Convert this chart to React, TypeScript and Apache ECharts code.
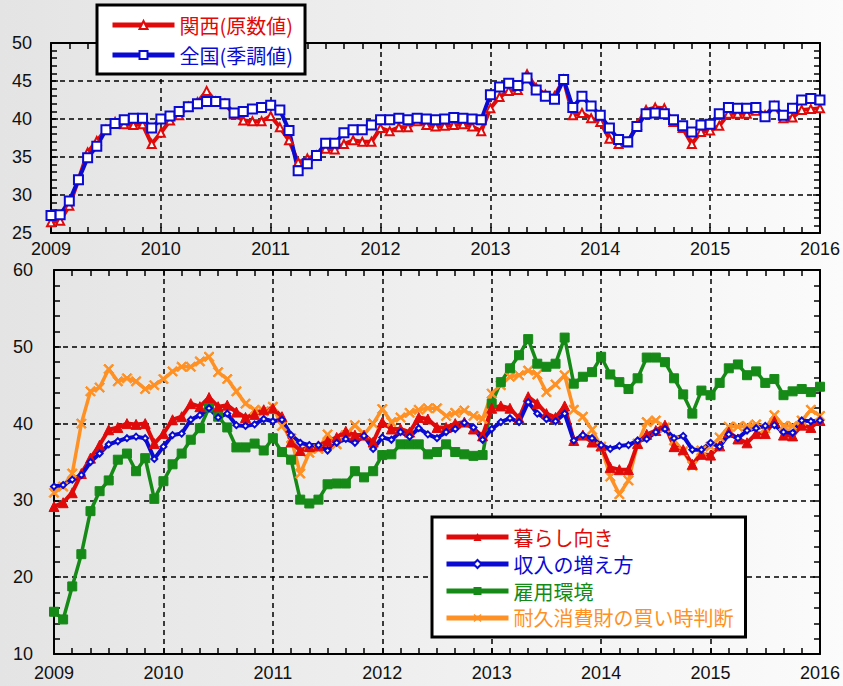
import React, { useEffect, useRef } from "react";
import * as echarts from "echarts";

const YEAR_LABELS = ["2009", "2010", "2011", "2012", "2013", "2014", "2015", "2016"];

// Top panel (monthly, Jan 2009 - Jan 2016)
const KANSAI = [
  26.4, 26.6, 28.6, 32.0, 35.6, 37.1, 38.6, 39.6, 39.3, 39.2, 39.3, 36.7,
  38.2, 39.8, 40.5, 41.6, 42.2, 43.7, 42.3, 42.0, 40.6, 39.8, 39.7, 39.7,
  40.4, 38.9, 37.2, 34.3, 34.8, 35.2, 36.1, 36.0, 36.7, 37.2, 37.0, 37.0,
  38.8, 38.4, 38.9, 38.9, 39.7, 39.2, 39.0, 39.1, 39.2, 39.3, 39.0, 38.4,
  41.4, 42.9, 43.7, 43.8, 45.9, 44.1, 43.2, 43.0, 45.2, 40.5, 40.8, 40.1,
  39.6, 37.4, 36.7, 36.9, 39.2, 41.2, 41.5, 41.4, 39.6, 38.8, 36.7, 38.3,
  38.5, 39.1, 40.7, 40.7, 40.7, 41.1, 40.5, 41.7, 40.1, 40.2, 41.2, 41.3, 41.4,
];
const NATIONAL = [
  27.3, 27.4, 29.2, 32.0, 34.9, 36.4, 38.6, 39.4, 39.9, 40.1, 40.1, 38.8,
  40.0, 40.4, 41.0, 41.6, 42.0, 42.3, 42.3, 42.0, 40.8, 41.0, 41.3, 41.5,
  41.8, 41.2, 38.5, 33.2, 34.1, 35.2, 36.8, 36.8, 38.2, 38.6, 38.6, 39.2,
  39.9, 39.9, 40.1, 39.9, 40.1, 40.0, 39.9, 40.0, 40.2, 40.1, 40.0, 39.9,
  43.2, 44.2, 44.7, 44.4, 45.4, 43.8, 43.0, 42.6, 45.2, 41.5, 43.0, 41.7,
  40.5, 38.8, 37.3, 37.0, 39.0, 40.7, 40.8, 40.7, 39.9, 39.1, 38.3, 39.2,
  39.3, 40.7, 41.5, 41.4, 41.4, 41.5, 40.3, 41.7, 40.5, 41.4, 42.5, 42.7, 42.5,
];

// Bottom panel
const KURASHI = [
  29.2, 29.7, 31.0, 33.5, 35.5, 37.2, 39.2, 39.5, 40.0, 39.9, 40.0, 37.4,
  38.7, 40.5, 40.9, 42.6, 42.2, 43.4, 42.2, 42.4, 41.5, 40.8, 41.2, 41.8,
  42.0, 40.9, 37.6, 36.5, 37.0, 37.1, 37.7, 38.2, 39.0, 38.5, 38.5, 37.6,
  40.2, 39.3, 39.3, 38.9, 40.8, 40.6, 39.5, 39.5, 40.0, 40.2, 39.3, 38.4,
  42.0, 42.3, 42.0, 40.7, 43.5, 42.6, 41.3, 40.8, 42.3, 37.8, 38.5, 37.6,
  37.1, 34.3, 34.0, 34.0, 37.4, 38.6, 39.1, 39.8, 37.0, 36.6, 34.7, 36.0,
  35.9, 37.1, 38.9, 38.0, 37.5, 38.7, 38.7, 40.3, 38.5, 38.4, 39.8, 39.5, 40.4,
];
const SHUNYU = [
  31.8, 32.0, 32.7, 33.3, 35.0, 36.1, 37.3, 37.7, 38.1, 38.3, 38.1, 35.4,
  37.0, 38.5, 38.7, 40.5, 41.1, 42.0, 40.8, 41.3, 39.8, 39.7, 39.9, 40.6,
  40.3, 40.5, 38.5, 37.5, 37.2, 37.2, 36.5, 37.5, 38.0, 37.5, 38.4, 36.7,
  38.2, 37.9, 38.9, 38.3, 39.4, 38.6, 38.1, 38.9, 39.3, 40.1, 39.5, 37.9,
  39.3, 40.2, 40.7, 40.2, 42.8, 41.3, 40.6, 40.3, 41.3, 37.8, 38.5, 38.1,
  37.2, 36.7, 37.1, 37.2, 37.8, 38.0, 38.9, 39.3, 38.1, 38.4, 36.6, 36.6,
  37.5, 37.0, 38.6, 38.1, 39.1, 39.4, 39.7, 39.8, 38.9, 38.8, 40.4, 40.3, 40.4,
];
const KOYO = [
  15.5, 14.5, 18.8, 23.0, 28.6, 31.2, 32.6, 35.3, 36.1, 33.8, 35.5, 30.2,
  32.5, 34.7, 36.1, 37.9, 39.4, 42.1, 40.9, 39.5, 36.9, 36.9, 37.4, 36.5,
  38.1, 36.3, 35.3, 30.1, 29.6, 30.1, 32.1, 32.2, 32.2, 33.8, 33.0, 33.8,
  35.9, 36.0, 37.3, 37.3, 37.3, 36.0, 36.3, 37.3, 36.3, 36.0, 35.8, 35.9,
  42.6, 45.4, 47.2, 48.9, 51.0, 47.8, 47.4, 47.8, 51.2, 45.2, 46.1, 46.7,
  48.7, 46.4, 45.4, 44.5, 45.9, 48.6, 48.6, 48.0, 45.9, 43.8, 41.3, 44.3,
  43.7, 45.3, 47.2, 47.7, 46.3, 46.8, 45.3, 45.8, 43.7, 44.2, 44.5, 44.1, 44.8,
];
const TAIKYU = [
  31.0, 31.8, 33.5, 40.0, 44.2, 44.7, 47.1, 45.5, 45.9, 45.5, 44.5, 45.0,
  45.8, 46.8, 47.4, 47.4, 48.1, 48.7, 46.7, 45.8, 44.2, 42.6, 41.8, 41.6,
  42.2, 39.7, 38.1, 33.5, 36.2, 36.7, 38.6, 37.3, 38.5, 39.8, 38.6, 40.0,
  41.9, 40.2, 40.8, 41.4, 41.8, 42.0, 42.0, 41.0, 41.4, 41.7, 41.0, 40.6,
  43.9, 45.0, 46.1, 46.3, 46.9, 46.4, 44.1, 45.1, 46.3, 41.8, 40.9, 39.2,
  37.0, 33.1, 30.8, 32.6, 37.4, 40.2, 40.4, 39.5, 37.8, 36.4, 34.5, 36.5,
  37.0, 38.2, 39.6, 39.6, 39.7, 39.9, 39.4, 41.1, 39.7, 39.7, 40.4, 41.8, 41.0,
];

const NAMES_TOP = ["関西(原数値)", "全国(季調値)"];
const NAMES_BOTTOM = ["暮らし向き", "収入の増え方", "雇用環境", "耐久消費財の買い時判断"];

const RED = "#e00a0a";
const BLUE = "#0a0ad2";
const GREEN = "#168a16";
const ORANGE = "#ff9124";

const NUM_FONT = "'Liberation Sans', Arial, sans-serif";
const CJK_FONT = "'Noto Sans CJK JP', 'Noto Sans', sans-serif";
const X_SYMBOL = "path://M0,1.2 L1.2,0 L5,3.8 L8.8,0 L10,1.2 L6.2,5 L10,8.8 L8.8,10 L5,6.2 L1.2,10 L0,8.8 L3.8,5 Z";

const toPairs = (arr: number[]) => arr.map((v, i) => [i, v]);

function xAxes(gridIndex: number, labelMargin: number) {
  const common = {
    gridIndex,
    type: "value",
    min: 0,
    max: 84,
    interval: 12,
    axisLine: { show: true, onZero: false, lineStyle: { color: "#000", width: 2 } },
    axisTick: { show: true, inside: true, length: 6, lineStyle: { color: "#000", width: 1.5 } },
    minorTick: { show: true, splitNumber: 6, length: 6, lineStyle: { color: "#000", width: 1.5 } },
  };
  return [
    {
      ...common,
      position: "bottom",
      axisLabel: {
        show: true,
        margin: labelMargin,
        fontSize: 18,
        color: "#111",
        fontFamily: NUM_FONT,
        formatter: (v: number) => YEAR_LABELS[Math.round(v / 12)] ?? "",
      },
      splitLine: { show: true, lineStyle: { color: "#000", width: 1.5, type: [5, 4] } },
    },
    {
      ...common,
      position: "top",
      axisLabel: { show: false },
      splitLine: { show: false },
    },
  ];
}

function yAxes(gridIndex: number, min: number, max: number, interval: number, labelMargin: number) {
  const common = {
    gridIndex,
    type: "value",
    min,
    max,
    interval,
    axisLine: { show: true, onZero: false, lineStyle: { color: "#000", width: 2 } },
    axisTick: { show: true, inside: true, length: 7, lineStyle: { color: "#000", width: 1.5 } },
    minorTick: { show: true, splitNumber: 5, length: 6, lineStyle: { color: "#000", width: 1.5 } },
  };
  return [
    {
      ...common,
      position: "left",
      axisLabel: { show: true, margin: labelMargin, fontSize: 18, color: "#111", fontFamily: NUM_FONT },
      splitLine: { show: true, lineStyle: { color: "#000", width: 1.5, type: [5, 4] } },
    },
    {
      ...common,
      position: "right",
      axisLabel: { show: false },
      splitLine: { show: false },
    },
  ];
}

export default function App() {
  const ref = useRef<HTMLDivElement | null>(null);

  useEffect(() => {
    if (!ref.current) return;
    const chart = echarts.init(ref.current, null, { renderer: "svg" });

    const lineSeries = (
      name: string,
      data: number[],
      color: string,
      xi: number,
      yi: number,
      symbol: string,
      symbolSize: number,
      width: number
    ) => ({
      name,
      type: "line",
      xAxisIndex: xi,
      yAxisIndex: yi,
      data: toPairs(data),
      symbol,
      symbolSize,
      showAllSymbol: true,
      silent: true,
      lineStyle: { color, width },
      itemStyle: { color, borderColor: color },
      emphasis: { disabled: true },
    });

    const option = {
      animation: false,
      backgroundColor: "transparent",
      textStyle: { fontFamily: NUM_FONT },
      grid: [
        { left: 51, right: 20, top: 43, height: 190 },
        { left: 54, right: 20, top: 270, height: 384 },
      ],
      xAxis: [...xAxes(0, 7), ...xAxes(1, 10)],
      yAxis: [...yAxes(0, 25, 50, 5, 19), ...yAxes(1, 10, 60, 10, 21)],
      legend: [
        {
          orient: "vertical",
          left: 97,
          top: 5,
          padding: [10, 12, 9, 13],
          itemWidth: 62,
          itemHeight: 10,
          itemGap: 10,
          backgroundColor: "#fff",
          borderColor: "#000",
          borderWidth: 3,
          borderRadius: 0,
          selectedMode: false,
          lineStyle: { width: 5 },
          textStyle: { fontSize: 20, fontFamily: CJK_FONT },
          data: [
            { name: NAMES_TOP[0], textStyle: { color: RED } },
            { name: NAMES_TOP[1], textStyle: { color: BLUE } },
          ],
        },
        {
          orient: "vertical",
          left: 432,
          top: 517,
          padding: [10, 12, 9, 12],
          itemWidth: 62,
          itemHeight: 10,
          itemGap: 7,
          backgroundColor: "#fff",
          borderColor: "#000",
          borderWidth: 3,
          borderRadius: 0,
          selectedMode: false,
          lineStyle: { width: 5 },
          textStyle: { fontSize: 20, fontFamily: CJK_FONT },
          data: [
            { name: NAMES_BOTTOM[0], textStyle: { color: RED } },
            { name: NAMES_BOTTOM[1], textStyle: { color: BLUE } },
            { name: NAMES_BOTTOM[2], textStyle: { color: GREEN } },
            { name: NAMES_BOTTOM[3], textStyle: { color: ORANGE } },
          ],
        },
      ],
      series: [
        lineSeries(NAMES_TOP[0], KANSAI, RED, 0, 0, "emptyTriangle", 8, 4),
        lineSeries(NAMES_TOP[1], NATIONAL, BLUE, 0, 0, "emptyRect", 9, 4),
        lineSeries(NAMES_BOTTOM[3], TAIKYU, ORANGE, 2, 2, X_SYMBOL, 10, 3.5),
        lineSeries(NAMES_BOTTOM[2], KOYO, GREEN, 2, 2, "rect", 9, 3.5),
        lineSeries(NAMES_BOTTOM[0], KURASHI, RED, 2, 2, "triangle", 10, 4),
        lineSeries(NAMES_BOTTOM[1], SHUNYU, BLUE, 2, 2, "emptyDiamond", 6, 4),
      ],
    };

    chart.setOption(option as any);
    return () => chart.dispose();
  }, []);

  return (
    <div
      style={{
        position: "fixed",
        left: 0,
        top: 0,
        width: 843,
        height: 686,
        background: "linear-gradient(to right, #e4e4e4 0%, #eeeeee 45%, #fbfbfb 100%)",
      }}
    >
      <div ref={ref} style={{ width: 843, height: 686 }} />
    </div>
  );
}
